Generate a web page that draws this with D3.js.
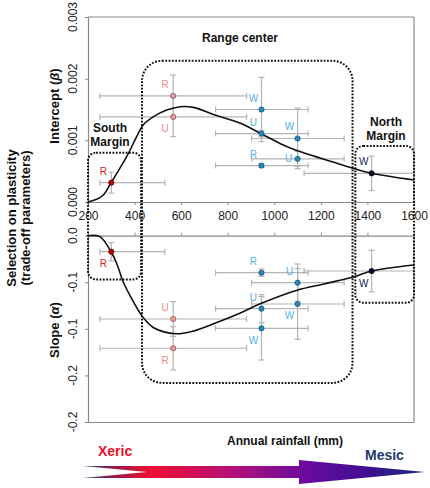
<!DOCTYPE html>
<html><head><meta charset="utf-8">
<script src="https://cdn.jsdelivr.net/npm/d3@7"></script>
<style>body{margin:0;background:#fff}svg{display:block;font-family:"Liberation Sans",Arial,sans-serif}</style>
</head><body>
<script>
// ---------- data ----------
const rainTicks = [200, 400, 600, 800, 1000, 1200, 1400, 1600];
const betaTicks = [0, 0.001, 0.002, 0.003];
const betaTickLabels = ["0.000", "0.001", "0.002", "0.003"];
const alphaTicks = [0, -0.05, -0.1, -0.15, -0.2];
const alphaTickLabels = ["0.0", "-0.1", "-0.1", "-0.2", "-0.2"];

const popLabel = ["R", "R", "U", "W", "U", "R", "W", "U", "W"];
const popSite = ["south", "c566", "c566", "c945", "c945", "c945", "c1100", "c1100", "north"];
const rainfall = [300, 566, 566, 945, 945, 945, 1100, 1100, 1418];
const rainLo = [251, 251, 251, 748, 748, 748, 903, 903, 1128];
const rainHi = [530, 881, 881, 1145, 1145, 1145, 1300, 1300, 1600];

const beta = [0.000313, 0.00172, 0.00138, 0.0015, 0.00111, 0.00059, 0.00103, 0.0007, 0.000465];
const betaErr = [0.00017, 0.00034, 0.00032, 0.00052, 0.00005, 0.00003, 0.00049, 0.00012, 0.00028];
const alpha = [-0.0172, -0.1208, -0.0894, -0.0994, -0.0783, -0.0397, -0.0733, -0.0504, -0.0379];
const alphaErr = [0.0098, 0.0232, 0.0186, 0.034, 0.015, 0.004, 0.038, 0.02, 0.0223];

const betaCurveX = [200, 237, 266, 299, 366, 409, 437, 480, 538, 595, 652, 745, 852, 947, 1024, 1100, 1217, 1338, 1417, 1600];
const betaCurveY = [0, 0.000044, 0.000113, 0.000313, 0.000735, 0.00106, 0.00125, 0.00138, 0.00149, 0.001545, 0.001535, 0.00141, 0.00128, 0.0011, 0.00095, 0.00083, 0.00069, 0.000546, 0.000465, 0.000357];
const alphaCurveX = [200, 251, 299, 323, 351, 394, 430, 455, 480, 530, 590, 650, 745, 852, 945, 1101, 1213, 1346, 1417, 1600];
const alphaCurveY = [0, -0.001, -0.0172, -0.0296, -0.0494, -0.0705, -0.0855, -0.093, -0.0985, -0.1035, -0.1052, -0.1025, -0.094, -0.0833, -0.0726, -0.0583, -0.0518, -0.0438, -0.0379, -0.0314];

const boxName = ["South", "Range", "North"];
const boxRainFrom = [200, 432, 1348];
const boxRainTo = [428, 1336, 1600];
const boxBetaTop = [0.0008, 0.00229, 0.00091];
const boxAlphaBottom = [-0.047, -0.158, -0.072];

// ---------- layout / style ----------
const betaSide = ["a", "a", "b", "a", "a", "a", "a", "l", "a"];
const alphaSide = ["b", "b", "a", "b", "a", "a", "b", "a", "b"];
const boxRadius = [8, 20, 8];
const siteStyle = {
  south: {label: "#d42020", fill: "#b00a0a", stroke: "#6a0000"},
  c566: {label: "#f08a8a", fill: "#d9a3a3", stroke: "#9a4a4a"},
  c945: {label: "#4db3e6", fill: "#2a88b6", stroke: "#0f5578"},
  c1100: {label: "#4db3e6", fill: "#2a88b6", stroke: "#0f5578"},
  north: {label: "#0d1f5c", fill: "#0a0a2a", stroke: "#000"}
};
const axisColor = "#8a8a8a", errColor = "#b4b4b4";

const W = 430, H = 488;
const svg = d3.select("body").append("svg").attr("width", W).attr("height", H);

const x = d3.scaleLinear().domain([200, 1600]).range([88, 414]);
const yB = d3.scaleLinear().domain([0, 0.003]).range([202, 17]);
const yA = d3.scaleLinear().domain([-0.2, 0]).range([422, 235.7]);

function styleAxis(g) {
  g.selectAll(".domain").attr("stroke", axisColor).attr("stroke-width", 1.2);
  g.selectAll(".tick line").attr("stroke", axisColor);
  g.selectAll(".tick text").attr("fill", "#222").attr("font-size", 12);
}

// top panel axes
svg.append("g").attr("transform", `translate(0,${yB(0)})`)
  .call(d3.axisBottom(x).tickValues(rainTicks).tickFormat(d3.format("d")).tickSize(3).tickSizeOuter(0).tickPadding(6)).call(styleAxis);
svg.append("g").attr("transform", `translate(${x(200)},0)`)
  .call(d3.axisLeft(yB).tickValues(betaTicks).tickSize(3).tickSizeOuter(0).tickFormat("")).call(styleAxis);
// bottom panel axes
svg.append("g").attr("transform", `translate(0,${yA(0)})`)
  .call(d3.axisTop(x).tickValues(rainTicks).tickSize(3).tickSizeOuter(0).tickFormat("")).call(styleAxis);
svg.append("g").attr("transform", `translate(${x(200)},0)`)
  .call(d3.axisLeft(yA).tickValues(alphaTicks).tickSize(3).tickSizeOuter(0).tickFormat("")).call(styleAxis);
svg.append("g").attr("transform", `translate(0,${yA(-0.2)})`)
  .call(d3.axisBottom(x).tickValues([]).tickSize(0).tickSizeOuter(0)).call(styleAxis);

// borders
const border = svg.append("g").attr("stroke", axisColor).attr("stroke-width", 1.2);
border.append("line").attr("x1", x(200)).attr("x2", x(1600)).attr("y1", yB(0.003)).attr("y2", yB(0.003));
border.append("line").attr("x1", x(1600)).attr("x2", x(1600)).attr("y1", yB(0.003)).attr("y2", yB(0));
border.append("line").attr("x1", x(1600)).attr("x2", x(1600)).attr("y1", yA(0)).attr("y2", yA(-0.2));

// rotated y tick labels
betaTicks.forEach((v, i) => {
  svg.append("text").attr("transform", `translate(77,${yB(v)}) rotate(-90)`)
    .attr("text-anchor", "middle").attr("font-size", 12).attr("fill", "#222").text(betaTickLabels[i]);
});
alphaTicks.forEach((v, i) => {
  svg.append("text").attr("transform", `translate(77,${yA(v)}) rotate(-90)`)
    .attr("text-anchor", "middle").attr("font-size", 12).attr("fill", "#222").text(alphaTickLabels[i]);
});

// error bars
function drawErr(y, vals, errs) {
  const g = svg.append("g");
  vals.forEach((v, i) => {
    const cx = x(rainfall[i]), cy = y(v);
    const e = g.append("g").attr("stroke", errColor).attr("stroke-width", 1.2);
    const xl = x(rainLo[i]), xr = x(rainHi[i]);
    e.append("line").attr("x1", xl).attr("x2", xr).attr("y1", cy).attr("y2", cy);
    e.append("line").attr("x1", xl).attr("x2", xl).attr("y1", cy - 3).attr("y2", cy + 3);
    if (rainHi[i] < 1600) e.append("line").attr("x1", xr).attr("x2", xr).attr("y1", cy - 3).attr("y2", cy + 3);
    const yt = y(v + errs[i]), yb = y(v - errs[i]);
    e.append("line").attr("x1", cx).attr("x2", cx).attr("y1", yt).attr("y2", yb);
    e.append("line").attr("x1", cx - 3).attr("x2", cx + 3).attr("y1", yt).attr("y2", yt);
    e.append("line").attr("x1", cx - 3).attr("x2", cx + 3).attr("y1", yb).attr("y2", yb);
  });
}
function drawPoints(y, vals, sides) {
  const g = svg.append("g");
  vals.forEach((v, i) => {
    const cx = x(rainfall[i]), cy = y(v), st = siteStyle[popSite[i]];
    g.append("circle").attr("cx", cx).attr("cy", cy).attr("r", 2.6)
      .attr("fill", st.fill).attr("stroke", st.stroke).attr("stroke-width", 0.8);
    const s = sides[i];
    const dy = s === "a" ? -8 : s === "b" ? 15.5 : 3;
    const dx = s === "l" ? -9 : -8;
    g.append("text").attr("x", cx + dx).attr("y", cy + dy).attr("text-anchor", "middle")
      .attr("font-size", 10).attr("fill", st.label).text(popLabel[i]);
  });
}
drawErr(yB, beta, betaErr);
drawErr(yA, alpha, alphaErr);

// curves
const line = d3.line().curve(d3.curveCatmullRom.alpha(0.5));
svg.append("path").attr("d", line(betaCurveX.map((r, i) => [x(r), yB(betaCurveY[i])])))
  .attr("fill", "none").attr("stroke", "#111").attr("stroke-width", 1.6);
svg.append("path").attr("d", line(alphaCurveX.map((r, i) => [x(r), yA(alphaCurveY[i])])))
  .attr("fill", "none").attr("stroke", "#111").attr("stroke-width", 1.6);

drawPoints(yB, beta, betaSide);
drawPoints(yA, alpha, alphaSide);

// dotted region boxes
boxName.forEach((n, i) => {
  const x0 = x(boxRainFrom[i]), x1 = x(boxRainTo[i]);
  const y0 = yB(boxBetaTop[i]), y1 = yA(boxAlphaBottom[i]);
  svg.append("rect").attr("x", x0).attr("y", y0).attr("width", x1 - x0).attr("height", y1 - y0)
    .attr("rx", boxRadius[i]).attr("ry", boxRadius[i])
    .attr("fill", "none").attr("stroke", "#111").attr("stroke-width", 2).attr("stroke-dasharray", "1.8,1.5");
});

// region labels
const bold = (t, px, py) => svg.append("text").attr("x", px).attr("y", py)
  .attr("text-anchor", "middle").attr("font-size", 12).attr("font-weight", "bold").attr("fill", "#111").text(t);
bold("Range center", 240, 42);
bold("South", 110, 132);
bold("Margin", 110, 146);
bold("North", 386, 126);
bold("Margin", 386, 140);
bold("Annual rainfall (mm)", 285, 445);

// axis titles
function vtitle(px, py, parts, size) {
  const t = svg.append("text").attr("transform", `translate(${px},${py}) rotate(-90)`)
    .attr("text-anchor", "middle").attr("font-size", size).attr("font-weight", "bold").attr("fill", "#111");
  parts.forEach(p => { const s = t.append("tspan").text(p[0]); if (p[1]) s.attr("font-style", "italic"); });
}
vtitle(59, 106, [["Intercept ("], ["β", true], [")"]], 13);
vtitle(59, 330, [["Slope ("], ["α", true], [")"]], 13);
vtitle(16, 218, [["Selection on plasticity"]], 13);
vtitle(30, 218, [["(trade-off parameters)"]], 13);

// gradient arrow
const defs = svg.append("defs");
const grad = defs.append("linearGradient").attr("id", "ag").attr("gradientUnits", "userSpaceOnUse")
  .attr("x1", 83).attr("x2", 425).attr("y1", 0).attr("y2", 0);
[[0, "#24407a"], [0.1, "#a01848"], [0.2, "#ee1030"], [0.45, "#b0107a"], [0.65, "#6a0aa0"], [0.85, "#3a1090"], [1, "#1a2a7a"]]
  .forEach(s => grad.append("stop").attr("offset", s[0]).attr("stop-color", s[1]));
svg.append("path").attr("fill", "url(#ag)")
  .attr("d", "M83,466 L299,466 L299,460 L425,472 L299,484 L299,478 L83,478 L147,472 Z");
svg.append("text").attr("x", 98).attr("y", 456).attr("font-size", 14).attr("font-weight", "bold").attr("fill", "#e8102a").text("Xeric");
svg.append("text").attr("x", 365).attr("y", 460).attr("font-size", 14).attr("font-weight", "bold").attr("fill", "#1f3a6e").text("Mesic");
</script>
</body></html>
